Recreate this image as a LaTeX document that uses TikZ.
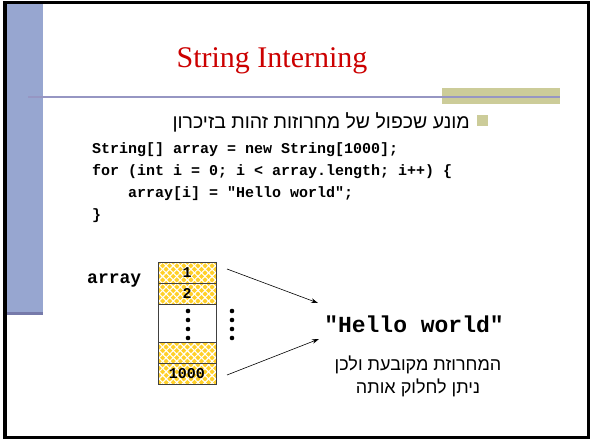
\documentclass[tikz,border=0pt]{standalone}
\usepackage{fontspec}
\setmainfont{Liberation Serif}
\newfontfamily\hebfont[Script=Hebrew]{Liberation Sans}
\newfontfamily\codefont{Liberation Mono}
\TeXXeTstate=1
\usetikzlibrary{patterns.meta,arrows.meta}
\definecolor{barblue}{RGB}{151,166,208}
\definecolor{bardark}{RGB}{118,122,170}
\definecolor{rulecol}{RGB}{150,150,195}
\definecolor{olive}{RGB}{204,204,153}
\definecolor{titlered}{RGB}{204,0,0}
\definecolor{gold}{RGB}{255,208,40}
\tikzset{
  code/.style={anchor=base west, inner sep=0pt, font=\codefont\bfseries\fontsize{15}{18}\selectfont},
  cell/.style={draw=black!75, line width=0.8pt, minimum width=58pt, inner sep=0pt,
    font=\codefont\bfseries\fontsize{15}{18}\selectfont,
    preaction={fill=gold},
    preaction={pattern={Lines[angle=45,distance=5pt,line width=1.1pt]}, pattern color=white},
    preaction={pattern={Lines[angle=-45,distance=5pt,line width=1.1pt]}, pattern color=white}},
  emptycell/.style={draw=black!75, line width=0.8pt, minimum width=58pt, inner sep=0pt, fill=white},
  heb/.style={font=\hebfont\fontsize{18}{23}\selectfont, inner sep=0pt},
  dot/.style={circle, fill=black, inner sep=0pt, minimum size=4.6pt},
  ptr/.style={line width=0.6pt, -{Stealth[length=7pt,width=4.5pt]}}
}
\begin{document}
\begin{tikzpicture}[x=1pt,y=-1pt]
\useasboundingbox (0,0) rectangle (590,439);
\fill[white] (0,0) rectangle (590,439);
% left bar
\fill[barblue] (7,4) rectangle (43,312);
\fill[bardark] (7,312) rectangle (43,315);
% rule and olive bar
\fill[olive] (442,88) rectangle (560,104);
\draw[rulecol, line width=2pt] (28,97) -- (560,97);
% title
\node[font=\fontsize{30}{36}\selectfont, text=titlered] (title) at (272,61) {String Interning};
% bullet
\fill[olive] (477,115) rectangle (488,126);
\node[heb, font=\hebfont\fontsize{19.5}{23}\selectfont, anchor=east] (bullet) at (470,122) {\beginR מונע שכפול של מחרוזות זהות בזיכרון\endR};
% code
\node[code] (c1) at (92,153) {String[] array = new String[1000];};
\node[code] (c2) at (92,175) {for (int i = 0; i < array.length; i++) \{};
\node[code] (c3) at (128,197) {array[i] = "Hello world";};
\node[code] (c4) at (92,219) {\}};
% array label
\node[anchor=base west, inner sep=0pt, font=\codefont\bfseries\fontsize{18}{20}\selectfont] (alabel) at (87,283) {array};
% cells
\node[cell, minimum height=21pt] (r1) at (187,272.5) {1};
\node[cell, minimum height=21pt] (r2) at (187,293.5) {2};
\node[emptycell, minimum height=38pt] (rd) at (187,323) {};
\node[cell, minimum height=21pt] (r3) at (187,352.5) {};
\node[cell, minimum height=21pt] (r4) at (187,373.5) {1000};
% dots
\foreach \i/\yy in {1/311,2/320,3/329,4/338}{
  \node[dot] (d\i) at (188,\yy) {};
  \node[dot] (e\i) at (232,\yy) {};
}
% target text
\node[font=\codefont\bfseries\fontsize{23}{26}\selectfont, inner sep=0pt] (hw) at (414,324) {"Hello world"};
\node[heb, align=center] (note) at (418,376) {\beginR המחרוזת מקובעת ולכן\endR\\\beginR ניתן לחלוק אותה\endR};
% arrows
\coordinate (s1) at (227,269);
\coordinate (s2) at (227,375);
\coordinate (t1) at (318,303);
\coordinate (t2) at (319,339);
\draw[ptr] (s1) -- (t1);
\draw[ptr] (s2) -- (t2);
% frame
\draw[line width=3.5pt] (5,2.5) rectangle (588.5,437.5);
\end{tikzpicture}
\end{document}
